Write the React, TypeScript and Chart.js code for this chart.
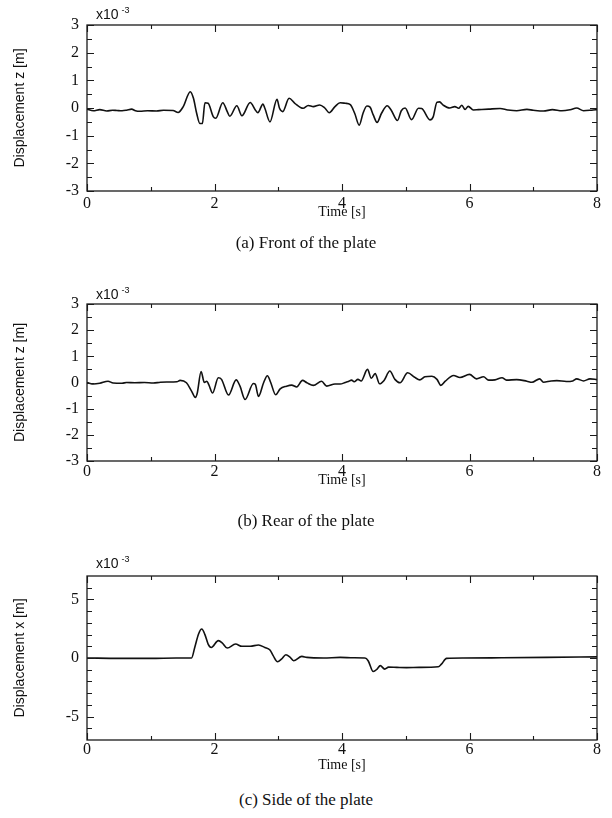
import React, { useEffect, useRef } from 'react';
import { Chart, registerables } from 'chart.js';

Chart.register(...registerables);

// ---------- data ----------
const timeFront = [0.0, 0.1, 0.2, 0.31, 0.4, 0.47, 0.55, 0.62, 0.7, 0.76, 0.83, 0.95, 1.09, 1.2, 1.35, 1.43, 1.51, 1.62, 1.67, 1.72, 1.77, 1.81, 1.85, 1.9, 1.98, 2.02, 2.13, 2.2, 2.24, 2.35, 2.43, 2.56, 2.64, 2.68, 2.76, 2.79, 2.87, 2.98, 3.02, 3.07, 3.17, 3.26, 3.39, 3.47, 3.55, 3.65, 3.73, 3.8, 3.89, 3.97, 4.05, 4.13, 4.2, 4.27, 4.33, 4.39, 4.44, 4.49, 4.55, 4.62, 4.71, 4.77, 4.87, 4.93, 4.99, 5.09, 5.2, 5.25, 5.38, 5.43, 5.49, 5.53, 5.59, 5.69, 5.77, 5.83, 5.88, 5.93, 5.98, 6.06, 6.14, 6.3, 6.48, 6.6, 6.74, 6.9, 7.0, 7.16, 7.3, 7.45, 7.58, 7.68, 7.79, 7.94, 8.0];
const dispFront = [-0.04, -0.1, -0.06, -0.11, -0.08, -0.09, -0.1, -0.08, -0.04, -0.1, -0.12, -0.1, -0.11, -0.08, -0.09, -0.16, 0.05, 0.59, 0.35, -0.19, -0.56, -0.56, 0.19, 0.17, -0.31, -0.37, 0.19, -0.13, -0.3, 0.08, -0.28, 0.2, -0.07, -0.17, 0.14, -0.01, -0.5, 0.31, -0.01, -0.13, 0.35, 0.17, -0.01, 0.09, 0.05, 0.11, 0.0, -0.17, 0.05, 0.19, 0.17, 0.12, -0.2, -0.62, -0.19, 0.07, 0.03, -0.25, -0.52, -0.19, 0.08, -0.07, -0.45, -0.1, 0.0, -0.42, -0.01, -0.02, -0.43, -0.32, 0.21, 0.22, 0.1, 0.0, 0.05, -0.01, 0.1, -0.05, 0.06, -0.07, -0.06, -0.04, -0.02, -0.07, -0.1, -0.05, -0.08, -0.11, -0.06, -0.1, -0.06, 0.0, -0.1, -0.07, -0.06];

const timeRear = [0.0, 0.05, 0.1, 0.2, 0.33, 0.41, 0.55, 0.62, 0.75, 0.9, 1.04, 1.15, 1.25, 1.41, 1.46, 1.56, 1.64, 1.7, 1.73, 1.79, 1.84, 1.88, 1.91, 1.97, 2.06, 2.11, 2.22, 2.34, 2.4, 2.48, 2.61, 2.64, 2.69, 2.77, 2.83, 2.88, 2.96, 3.03, 3.13, 3.21, 3.29, 3.38, 3.45, 3.55, 3.68, 3.76, 3.89, 3.97, 4.05, 4.1, 4.15, 4.19, 4.25, 4.3, 4.4, 4.46, 4.52, 4.59, 4.66, 4.75, 4.83, 4.91, 5.03, 5.14, 5.22, 5.3, 5.41, 5.49, 5.55, 5.62, 5.75, 5.85, 6.0, 6.11, 6.22, 6.3, 6.4, 6.51, 6.58, 6.74, 6.9, 6.98, 7.1, 7.16, 7.28, 7.37, 7.52, 7.62, 7.68, 7.79, 7.89, 8.0];
const dispRear = [0.0, -0.04, -0.06, -0.03, 0.05, -0.02, -0.03, 0.0, -0.01, 0.0, -0.02, 0.01, 0.02, 0.03, 0.08, -0.01, -0.33, -0.57, -0.4, 0.42, 0.0, 0.05, -0.08, -0.4, 0.18, 0.12, -0.48, 0.1, -0.14, -0.65, -0.04, -0.07, -0.53, -0.01, 0.26, 0.01, -0.47, -0.24, -0.14, -0.1, -0.17, 0.08, -0.01, -0.11, 0.05, -0.14, -0.06, -0.06, 0.0, 0.04, 0.09, 0.03, 0.12, 0.06, 0.5, 0.16, 0.34, -0.05, 0.08, 0.44, 0.12, -0.01, 0.37, 0.2, 0.1, 0.22, 0.24, 0.12, -0.11, 0.05, 0.27, 0.19, 0.31, 0.14, 0.22, 0.09, 0.1, 0.18, 0.09, 0.11, 0.05, 0.01, 0.14, 0.01, 0.06, 0.07, 0.04, 0.06, 0.14, 0.06, 0.14, 0.11];

const timeSide = [0.0, 0.5, 1.0, 1.4, 1.64, 1.69, 1.75, 1.8, 1.85, 1.9, 1.95, 2.06, 2.12, 2.2, 2.33, 2.43, 2.56, 2.69, 2.79, 2.87, 2.92, 2.99, 3.05, 3.12, 3.18, 3.24, 3.37, 3.45, 3.71, 3.97, 4.18, 4.36, 4.41, 4.49, 4.55, 4.6, 4.67, 4.73, 4.86, 5.01, 5.21, 5.51, 5.56, 5.64, 5.9, 6.5, 7.2, 8.0];
const dispSide = [0.0, -0.03, -0.03, 0.0, 0.0, 0.9, 2.05, 2.47, 2.0, 1.19, 0.9, 1.48, 1.3, 0.85, 1.19, 1.0, 1.0, 1.11, 0.9, 0.68, 0.2, -0.32, -0.1, 0.28, 0.1, -0.23, 0.14, 0.05, 0.0, 0.05, 0.02, 0.0, -0.23, -1.15, -0.95, -0.65, -0.95, -0.78, -0.8, -0.82, -0.8, -0.75, -0.52, -0.03, 0.0, 0.02, 0.05, 0.1];

const xTickValues = [0, 2, 4, 6, 8];
const xMinorValues = [1, 3, 5, 7];
const zTickValues = [-3, -2, -1, 0, 1, 2, 3];
const zMinorValues = [-2.5, -1.5, -0.5, 0.5, 1.5, 2.5];
const sideTickValues = [-5, 0, 5];
const sideMinorValues = [-6, -4, -3, -2, -1, 1, 2, 3, 4, 6];

const captions = ['(a) Front of the plate', '(b) Rear of the plate', '(c) Side of the plate'];
const yTitles = ['Displacement z [m]', 'Displacement z [m]', 'Displacement x [m]'];
const xTitle = 'Time [s]';

// ---------- layout (positions only) ----------
type PanelLayout = {
  canvasTop: number;
  canvasHeight: number;
  plotTop: number;
  plotBottom: number;
  labelPad: number;
  titlePadBottom: number;
  expGap: number;
  captionY: number;
};

const layouts: PanelLayout[] = [
  { canvasTop: 0, canvasHeight: 230, plotTop: 25, plotBottom: 191, labelPad: 3, titlePadBottom: 9.6, expGap: 6, captionY: 243 },
  { canvasTop: 250, canvasHeight: 250, plotTop: 54, plotBottom: 211, labelPad: 1.5, titlePadBottom: 11.6, expGap: 5, captionY: 521 },
  { canvasTop: 520, canvasHeight: 260, plotTop: 56, plotBottom: 220, labelPad: 0.5, titlePadBottom: 6.6, expGap: 8, captionY: 800 },
];

const PLOT_LEFT = 87;
const PLOT_RIGHT_PAD = 15;
const SERIF = '"Liberation Serif", "Times New Roman", serif';
const SANS = '"Liberation Sans", Arial, sans-serif';

type PanelData = {
  time: number[];
  disp: number[];
  yMin: number;
  yMax: number;
  yTicks: number[];
  yMinor: number[];
  yTitle: string;
};

const panelData: PanelData[] = [
  { time: timeFront, disp: dispFront, yMin: -3, yMax: 3, yTicks: zTickValues, yMinor: zMinorValues, yTitle: yTitles[0] },
  { time: timeRear, disp: dispRear, yMin: -3, yMax: 3, yTicks: zTickValues, yMinor: zMinorValues, yTitle: yTitles[1] },
  { time: timeSide, disp: dispSide, yMin: -7, yMax: 7, yTicks: sideTickValues, yMinor: sideMinorValues, yTitle: yTitles[2] },
];

function makeFramePlugin(d: PanelData, lay: PanelLayout) {
  return {
    id: 'frameTicks',
    afterDraw(chart: any) {
      const { ctx, chartArea } = chart;
      const { left, right, top, bottom } = chartArea;
      const xs = chart.scales.x;
      const ys = chart.scales.y;
      ctx.save();
      ctx.strokeStyle = '#1a1a1a';
      ctx.lineWidth = 1.3;
      ctx.strokeRect(left, top, right - left, bottom - top);
      ctx.lineWidth = 1.1;
      const drawX = (vals: number[], len: number) => {
        vals.forEach((v) => {
          const px = Math.round(xs.getPixelForValue(v)) + 0.5;
          ctx.beginPath();
          ctx.moveTo(px, bottom);
          ctx.lineTo(px, bottom - len);
          ctx.moveTo(px, top);
          ctx.lineTo(px, top + len);
          ctx.stroke();
        });
      };
      const drawY = (vals: number[], len: number) => {
        vals.forEach((v) => {
          const py = Math.round(ys.getPixelForValue(v)) + 0.5;
          ctx.beginPath();
          ctx.moveTo(left, py);
          ctx.lineTo(left + len, py);
          ctx.moveTo(right, py);
          ctx.lineTo(right - len, py);
          ctx.stroke();
        });
      };
      drawX(xTickValues, 7);
      drawX(xMinorValues, 4);
      drawY(d.yTicks, 7);
      drawY(d.yMinor, 5);
      ctx.fillStyle = '#111';
      ctx.textAlign = 'left';
      ctx.textBaseline = 'alphabetic';
      ctx.font = `14px ${SANS}`;
      const ex = left + 9;
      const ey = top - lay.expGap;
      ctx.fillText('x10', ex, ey);
      const w = ctx.measureText('x10').width;
      ctx.font = `9px ${SANS}`;
      ctx.fillText('-3', ex + w + 3, ey - 6);
      ctx.restore();
    },
  };
}

function Panel({ d, lay }: { d: PanelData; lay: PanelLayout }) {
  const ref = useRef<HTMLCanvasElement | null>(null);
  useEffect(() => {
    if (!ref.current) return;
    const points = d.time.map((t, i) => ({ x: t, y: d.disp[i] }));
    const chart = new Chart(ref.current, {
      type: 'line',
      data: {
        datasets: [
          {
            data: points,
            borderColor: '#111',
            borderWidth: 1.6,
            pointRadius: 0,
            fill: false,
            cubicInterpolationMode: 'monotone',
          },
        ],
      },
      options: {
        animation: false,
        responsive: false,
        maintainAspectRatio: false,
        events: [],
        plugins: { legend: { display: false }, tooltip: { enabled: false }, title: { display: false } },
        layout: { padding: { top: lay.plotTop, right: PLOT_RIGHT_PAD, left: 0, bottom: 0 } },
        scales: {
          x: {
            type: 'linear',
            min: 0,
            max: 8,
            afterBuildTicks: (s: any) => {
              s.ticks = xTickValues.map((v) => ({ value: v }));
            },
            afterFit: (s: any) => {
              s.height = lay.canvasHeight - lay.plotBottom;
            },
            grid: { display: false, drawTicks: false },
            border: { display: false },
            ticks: {
              padding: lay.labelPad,
              color: '#111',
              font: { family: SERIF, size: 16 },
              maxRotation: 0,
              autoSkip: false,
              callback: (v: any) => String(v),
            },
            title: {
              display: true,
              text: xTitle,
              color: '#111',
              font: { family: SERIF, size: 14 },
              padding: { top: 0, bottom: lay.titlePadBottom },
            },
          },
          y: {
            type: 'linear',
            min: d.yMin,
            max: d.yMax,
            afterBuildTicks: (s: any) => {
              s.ticks = d.yTicks.map((v) => ({ value: v }));
            },
            afterFit: (s: any) => {
              s.width = PLOT_LEFT;
            },
            grid: { display: false, drawTicks: false },
            border: { display: false },
            ticks: {
              padding: 8,
              color: '#111',
              font: { family: SERIF, size: 16 },
              autoSkip: false,
              callback: (v: any) => String(v),
            },
            title: {
              display: true,
              text: d.yTitle,
              color: '#111',
              font: { family: SANS, size: 14 },
              padding: { top: 12, bottom: 0 },
            },
          },
        },
      },
      plugins: [makeFramePlugin(d, lay)],
    } as any);
    return () => chart.destroy();
  }, [d, lay]);
  return (
    <canvas
      ref={ref}
      width={612}
      height={lay.canvasHeight}
      style={{ position: 'absolute', left: 0, top: lay.canvasTop, width: 612, height: lay.canvasHeight }}
    />
  );
}

export default function App() {
  return (
    <div style={{ position: 'absolute', left: 0, top: 0, width: 612, height: 818, background: '#fff' }}>
      {panelData.map((d, i) => (
        <Panel key={i} d={d} lay={layouts[i]} />
      ))}
      {captions.map((c, i) => (
        <div
          key={'c' + i}
          style={{
            position: 'absolute',
            left: 0,
            width: 612,
            top: layouts[i].captionY - 11,
            height: 22,
            lineHeight: '22px',
            textAlign: 'center',
            fontFamily: SERIF,
            fontSize: 17,
            color: '#111',
          }}
        >
          {c}
        </div>
      ))}
    </div>
  );
}
